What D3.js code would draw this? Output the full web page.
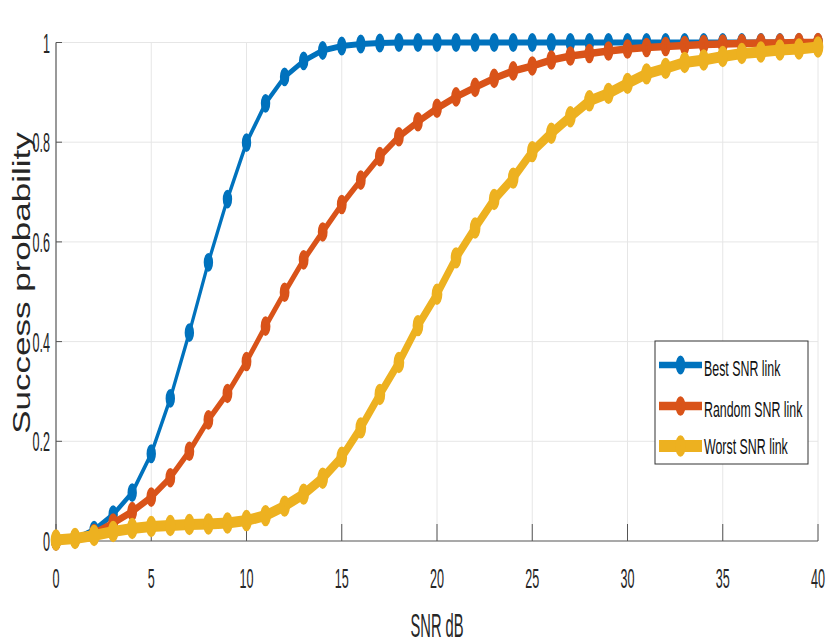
<!DOCTYPE html>
<html><head><meta charset="utf-8">
<script src="https://cdn.jsdelivr.net/npm/d3@7"></script>
<style>html,body{margin:0;padding:0;background:#fff;}svg{display:block;}</style>
</head><body>
<script>
const snr = [0,1,2,3,4,5,6,7,8,9,10,11,12,13,14,15,16,17,18,19,20,21,22,23,24,25,26,27,28,29,30,31,32,33,34,35,36,37,38,39,40];
const bestSNR = [0.000,0.004,0.022,0.053,0.097,0.175,0.286,0.418,0.559,0.686,0.799,0.878,0.931,0.963,0.984,0.993,0.997,0.999,1.000,1.000,1.000,1.000,1.000,1.000,1.000,1.000,1.000,1.000,1.000,1.000,1.000,1.000,1.000,1.000,1.000,1.000,1.000,1.000,1.000,1.000,1.000];
const randomSNR = [0.000,0.005,0.015,0.036,0.059,0.088,0.127,0.180,0.243,0.296,0.360,0.431,0.499,0.564,0.620,0.675,0.724,0.771,0.811,0.841,0.868,0.891,0.910,0.928,0.943,0.953,0.965,0.973,0.978,0.983,0.987,0.990,0.992,0.994,0.996,0.997,0.998,0.999,0.999,1.000,1.000];
const worstSNR = [0.002,0.005,0.011,0.019,0.025,0.029,0.031,0.033,0.034,0.036,0.041,0.051,0.070,0.094,0.126,0.168,0.227,0.294,0.358,0.432,0.495,0.568,0.628,0.685,0.728,0.781,0.818,0.851,0.883,0.898,0.918,0.937,0.948,0.960,0.965,0.972,0.978,0.981,0.985,0.987,0.991];
const seriesNames = ["Best SNR link","Random SNR link","Worst SNR link"];
const xTicks = [0,5,10,15,20,25,30,35,40];
const yTicks = [0,0.2,0.4,0.6,0.8,1];
const yTickLabels = ["0","0.2","0.4","0.6","0.8","1"];
const xLabel = "SNR dB";
const yLabel = "Success probability";

const W = 826, H = 644;
const K = 2; // vertical stretch of the reference image
const colors = ["#0072BD","#D95319","#EDB120"];
const widths = [3, 3.8, 5.5];
const mr = [3.2, 3.0, 2.6];

const svg = d3.select("body").append("svg").attr("width", W).attr("height", H);
const x = d3.scaleLinear().domain([0,40]).range([56,818]);
const y = d3.scaleLinear().domain([0,1]).range([541,42.5]);
const yL = d3.scaleLinear().domain([0,1]).range([541/K,42.5/K]);

// grid
const grid = svg.append("g");
grid.selectAll("line.gx").data(xTicks.slice(1)).enter().append("line")
  .attr("x1", d=>x(d)).attr("x2", d=>x(d)).attr("y1", y(0)).attr("y2", y(1))
  .attr("stroke", "#e6e6e6").attr("stroke-width", 1);
grid.selectAll("line.gy").data(yTicks.slice(1)).enter().append("line")
  .attr("x1", x(0)).attr("x2", x(40)).attr("y1", d=>y(d)).attr("y2", d=>y(d))
  .attr("stroke", "#e6e6e6").attr("stroke-width", 1);

// axes
const axG = svg.append("g");
axG.append("line").attr("x1", x(0)).attr("x2", x(0)).attr("y1", y(0)).attr("y2", y(1)).attr("stroke","#555").attr("stroke-width",1.2);
axG.append("line").attr("x1", x(0)).attr("x2", x(40)).attr("y1", y(0)).attr("y2", y(0)).attr("stroke","#555").attr("stroke-width",1.2);
axG.selectAll("line.tx").data(xTicks).enter().append("line")
  .attr("x1", d=>x(d)).attr("x2", d=>x(d)).attr("y1", y(0)).attr("y2", y(0)-17)
  .attr("stroke","#555").attr("stroke-width",1);
axG.selectAll("line.ty").data(yTicks).enter().append("line")
  .attr("x1", x(0)).attr("x2", x(0)+6).attr("y1", d=>y(d)).attr("y2", d=>y(d))
  .attr("stroke","#555").attr("stroke-width",1);

const font = "'Liberation Sans', Arial, sans-serif";
axG.selectAll("text.xl").data(xTicks).enter().append("text")
  .attr("transform", d=>`translate(${x(d)},588) scale(1,2.2)`)
  .attr("text-anchor","middle").attr("font-family",font).attr("font-size",12.6).attr("fill","#262626")
  .text(d=>d);
axG.selectAll("text.yl").data(yTicks).enter().append("text")
  .attr("transform", (d,i)=>`translate(50,${y(d)+10}) scale(1,2.2)`)
  .attr("text-anchor","end").attr("font-family",font).attr("font-size",12.6).attr("fill","#262626")
  .text((d,i)=>yTickLabels[i]);
svg.append("text").attr("transform", `translate(${(x(0)+x(40))/2},636.5) scale(1,2.2)`)
  .attr("text-anchor","middle").attr("font-family",font).attr("font-size",14.7).attr("fill","#262626")
  .text(xLabel);
svg.append("text").attr("transform", `translate(30,283) rotate(-90) scale(1.43,1)`)
  .attr("text-anchor","middle").attr("font-family",font).attr("font-size",24.5).attr("fill","#262626")
  .text(yLabel);

// series (drawn in a vertically stretched group)
const plot = svg.append("g").attr("transform", `scale(1,${K})`);
const allSeries = [bestSNR, randomSNR, worstSNR];
const line = d3.line().x((d,i)=>x(snr[i])).y(d=>yL(d));
allSeries.forEach((s, si) => {
  const g = plot.append("g");
  g.append("path").datum(s).attr("d", line).attr("fill","none")
    .attr("stroke", colors[si]).attr("stroke-width", widths[si]).attr("stroke-linejoin","round");
  g.selectAll("circle").data(s).enter().append("circle")
    .attr("cx", (d,i)=>x(snr[i])).attr("cy", d=>yL(d)).attr("r", mr[si])
    .attr("fill", colors[si]).attr("stroke", colors[si]).attr("stroke-width", widths[si]);
});

// legend
const leg = svg.append("g");
leg.append("rect").attr("x",655).attr("y",341).attr("width",153).attr("height",123)
  .attr("fill","#fff").attr("stroke","#333").attr("stroke-width",1);
const legPlot = svg.append("g").attr("transform", `scale(1,${K})`);
const legY = [365, 406, 446];
const legBase = [375.5, 417, 454];
seriesNames.forEach((nm, i) => {
  legPlot.append("line").attr("x1",659).attr("x2",702).attr("y1",legY[i]/K).attr("y2",legY[i]/K)
    .attr("stroke",colors[i]).attr("stroke-width",widths[i]*1.1);
  legPlot.append("circle").attr("cx",680.5).attr("cy",legY[i]/K).attr("r",mr[i])
    .attr("fill",colors[i]).attr("stroke",colors[i]).attr("stroke-width",widths[i]);
  leg.append("text").attr("transform",`translate(704,${legBase[i]}) scale(1,1.85)`)
    .attr("font-family",font).attr("font-size",12.4).attr("fill","#111").text(nm);
});
</script>
</body></html>
